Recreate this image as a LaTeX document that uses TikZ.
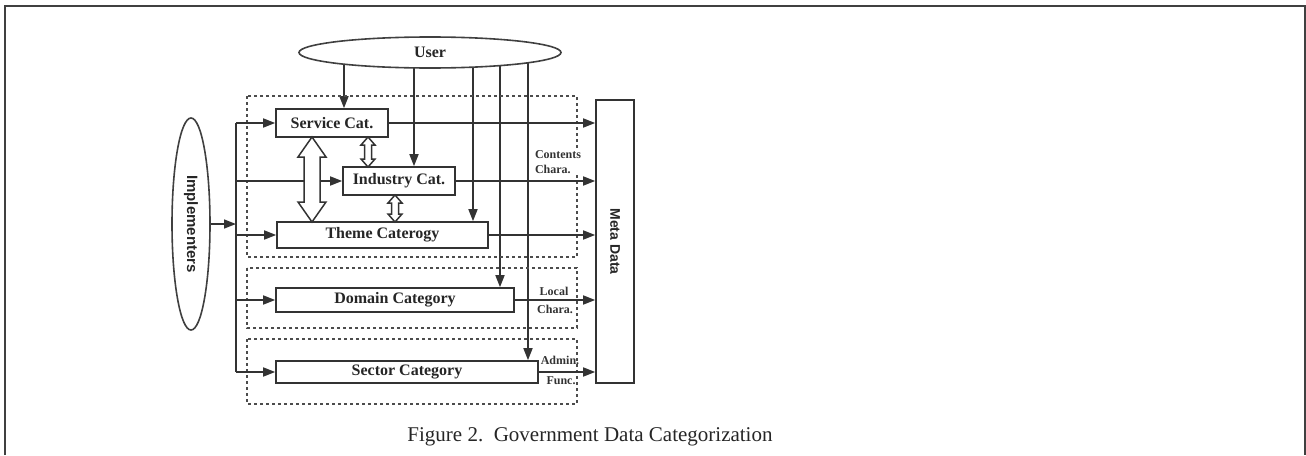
\documentclass[tikz,border=0pt]{standalone}
\usepackage{fontspec}
\setmainfont{Liberation Serif}
\newfontfamily\sansfont{Liberation Sans}
\usetikzlibrary{shapes.geometric,arrows.meta,calc}
\pgfdeclarelayer{back}
\pgfsetlayers{back,main}

\tikzset{
  frame/.style={line width=1.5pt, black!75},
  catbox/.style={draw, line width=1.6pt, black!80, fill=white, inner sep=0pt,
    font=\fontsize{16}{18}\selectfont\bfseries, text=black!85},
  oval/.style={ellipse, draw, line width=1.6pt, black!75, fill=white, inner sep=0pt,
    text=black!85},
  group/.style={draw, line width=1.7pt, black!70, dash pattern=on 3pt off 3pt},
  conn/.style={line width=1.6pt, black!80},
  arr/.style={conn, -{Triangle[length=12pt,width=9pt]}},
  hollow/.style={draw, line width=1.5pt, black!80, fill=white, line join=miter},
  small/.style={font=\fontsize{12}{15}\selectfont\bfseries, inner sep=0.5pt,
    text=black!80, align=left},
}

% hollow two-headed arrow: x, top y, bottom y, shaft half width, head half width, head length
\newcommand{\dblarrow}[6]{%
  \draw[hollow] ({#1-#4},{#2+#6}) -- ({#1-#5},{#2+#6}) -- (#1,#2) -- ({#1+#5},{#2+#6})
    -- ({#1+#4},{#2+#6}) -- ({#1+#4},{#3-#6}) -- ({#1+#5},{#3-#6}) -- (#1,#3)
    -- ({#1-#5},{#3-#6}) -- ({#1-#4},{#3-#6}) -- cycle;}

\begin{document}
\begin{tikzpicture}[x=1pt, y=-1pt]
\useasboundingbox (0,0) rectangle (1306,455);

% page frame
\draw[frame] (5,455) -- (5,6) -- (1305,6) -- (1305,455);

% dashed groupings
\draw[group] (247,96) rectangle (577,257);
\draw[group] (247,268) rectangle (577,328);
\draw[group] (247,339) rectangle (577,404);

% actors
\node[oval, minimum width=262pt, minimum height=31pt,
      font=\fontsize{16}{18}\selectfont\bfseries] (user) at (430,52.5) {User};
\node[oval, rotate=-90, minimum width=212pt, minimum height=38pt,
      font=\sansfont\fontsize{15}{17}\selectfont\bfseries] (impl) at (191,224) {Implementers};

% categories
\node[catbox, minimum width=112pt, minimum height=28pt] (service) at (332,123) {Service Cat.};
\node[catbox, minimum width=112pt, minimum height=28pt] (industry) at (399,181) {Industry Cat.};
\node[catbox, minimum width=211pt, minimum height=26pt] (theme) at (382.5,235) {Theme Caterogy};
\node[catbox, minimum width=238pt, minimum height=24pt] (domain) at (395,300) {Domain Category};
\node[catbox, minimum width=262pt, minimum height=22pt] (sector) at (407,372) {Sector Category};

% metadata store
\node[catbox, minimum width=38pt, minimum height=283pt] (meta) at (615,241.5) {};
\node[rotate=-90, font=\sansfont\fontsize{14}{16}\selectfont\bfseries, text=black!85]
  (metalabel) at (meta.center) {Meta Data};

% implementers feed a common bus
\coordinate (bt) at (236,123);
\coordinate (bb) at (236,372);
\draw[conn] (bt) -- (bb);
\draw[arr] (impl.north) -- (impl.north -| bt);
\draw[arr] (bt) -- (service.west);
\draw[arr] (bt |- industry) -- (industry.west);
\draw[arr] (bt |- theme) -- (theme.west);
\draw[arr] (bt |- domain) -- (domain.west);
\draw[arr] (bb) -- (sector.west);

% categories to metadata
\draw[arr] (service.east) -- (service.east -| meta.west);
\draw[arr] (industry.east) -- (industry.east -| meta.west);
\draw[arr] (theme.east) -- (theme.east -| meta.west);
\draw[arr] (domain.east) -- (domain.east -| meta.west);
\draw[arr] (sector.east) -- (sector.east -| meta.west);

% relations among categories
\dblarrow{312}{137}{222}{8}{14}{20}
\dblarrow{368}{137}{167}{3.5}{7}{8}
\dblarrow{395}{195}{222}{3.5}{7}{8}

% characteristic labels
\node[small, fill=white] (contents) at (558,162.5) {Contents\\Chara.};
\node[small] (local) at (554,291) {Local};
\node[small] (localb) at (555,309) {Chara.};
\node[small] (admin) at (560,360) {Admin.};
\node[small] (func) at (561,381) {Func.};

% user access lines
\coordinate (u1) at (344,0);
\coordinate (u2) at (414,0);
\coordinate (u3) at (473,0);
\coordinate (u4) at (500,0);
\coordinate (u5) at (528,0);
\begin{pgfonlayer}{back}
\draw[arr] (user.center -| u1) -- (service.north -| u1);
\draw[arr] (user.center -| u2) -- (industry.north -| u2);
\draw[arr] (user.center -| u3) -- (theme.north -| u3);
\draw[arr] (user.center -| u4) -- (domain.north -| u4);
\draw[arr] (user.center -| u5) -- (sector.north -| u5);
\end{pgfonlayer}

% caption
\node[font=\fontsize{21}{24}\selectfont, text=black!85] (caption) at (590,437)
  {Figure 2.\ \ Government Data Categorization};
\end{tikzpicture}
\end{document}
